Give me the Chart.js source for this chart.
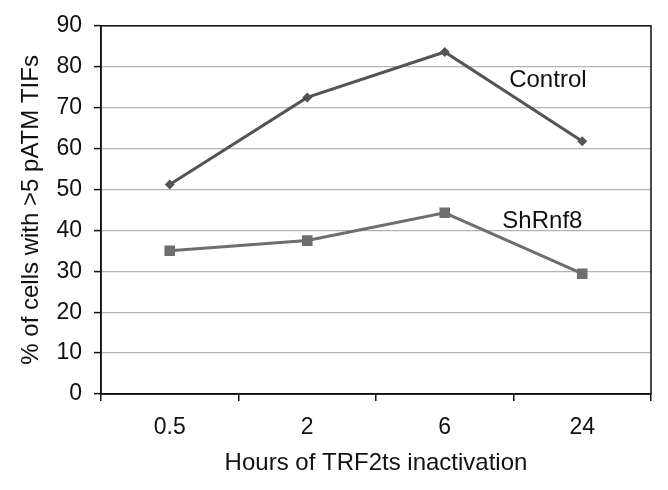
<!DOCTYPE html>
<html>
<head>
<meta charset="utf-8">
<script src="https://cdn.jsdelivr.net/npm/chart.js@4/dist/chart.umd.min.js"></script>
<style>
html,body{margin:0;padding:0;background:#fff;}
#wrap{width:668px;height:490px;position:relative;}
</style>
</head>
<body>
<div id="wrap"><canvas id="c" width="668" height="490"></canvas></div>
<script>
const categories = ["0.5", "2", "6", "24"];
const controlValues = [51.2, 72.5, 83.6, 61.8];
const shRnf8Values = [35.0, 37.5, 44.3, 29.4];
const yTicks = [0, 10, 20, 30, 40, 50, 60, 70, 80, 90];
const seriesNames = ["Control", "ShRnf8"];
// label anchors in data units: [category position, value]
const controlLabelAt = [2.75, 76.7];
const shRnf8LabelAt = [2.71, 42.2];

const FONT = "'Liberation Sans', Arial, Helvetica, sans-serif";

const frame = {
  id: 'frame',
  afterDraw(chart) {
    const {ctx, chartArea: a, scales} = chart;
    ctx.save();
    ctx.strokeStyle = '#111';
    ctx.lineWidth = 1.5;
    ctx.strokeRect(a.left, a.top, a.right - a.left, a.bottom - a.top);
    ctx.fillStyle = '#111';
    ctx.font = "24px " + FONT;
    ctx.textAlign = 'center';
    ctx.textBaseline = 'middle';
    const pairs = [[seriesNames[0], controlLabelAt], [seriesNames[1], shRnf8LabelAt]];
    for (const [txt, at] of pairs) {
      ctx.fillText(txt, scales.x.getPixelForValue(at[0]), scales.y.getPixelForValue(at[1]));
    }
    ctx.restore();
  }
};

new Chart(document.getElementById('c'), {
  type: 'line',
  data: {
    labels: categories,
    datasets: [
      {
        label: seriesNames[0],
        data: controlValues,
        borderColor: '#545454',
        backgroundColor: '#545454',
        borderWidth: 3,
        pointStyle: 'rectRot',
        pointRadius: 5,
        pointBorderWidth: 0,
        tension: 0
      },
      {
        label: seriesNames[1],
        data: shRnf8Values,
        borderColor: '#6e6e6e',
        backgroundColor: '#6e6e6e',
        borderWidth: 3,
        pointStyle: 'rect',
        pointRadius: 7.5,
        pointBorderWidth: 0,
        tension: 0
      }
    ]
  },
  options: {
    responsive: false,
    animation: false,
    layout: {padding: {left: 17, right: 17, top: 24, bottom: 12}},
    plugins: {legend: {display: false}, tooltip: {enabled: false}},
    scales: {
      x: {
        offset: true,
        grid: {display: true, drawOnChartArea: false, drawTicks: true, tickLength: 7, color: '#111', lineWidth: 1.5, offset: true},
        border: {display: true, color: '#111', width: 1.5},
        ticks: {color: '#111', font: {family: FONT, size: 23}, padding: 13},
        title: {display: true, text: 'Hours of TRF2ts inactivation', color: '#111', font: {family: FONT, size: 24}, padding: 0},
        afterFit(s) { s.height = 490 - 394 - 12; }
      },
      y: {
        min: 0, max: 90,
        afterBuildTicks(s) { s.ticks = yTicks.map(v => ({value: v})); },
        grid: {color: '#b4b4b4', lineWidth: 1.2, drawTicks: true, tickLength: 7, tickColor: '#111', tickWidth: 1.5},
        border: {display: true, color: '#111', width: 1.5},
        ticks: {color: '#111', font: {family: FONT, size: 23}, padding: 12},
        title: {display: true, text: '% of cells with >5 pATM TIFs', color: '#111', font: {family: FONT, size: 24}, padding: 0},
        afterFit(s) { s.width = 101 - 17; }
      }
    }
  },
  plugins: [frame]
});
</script>
</body>
</html>
